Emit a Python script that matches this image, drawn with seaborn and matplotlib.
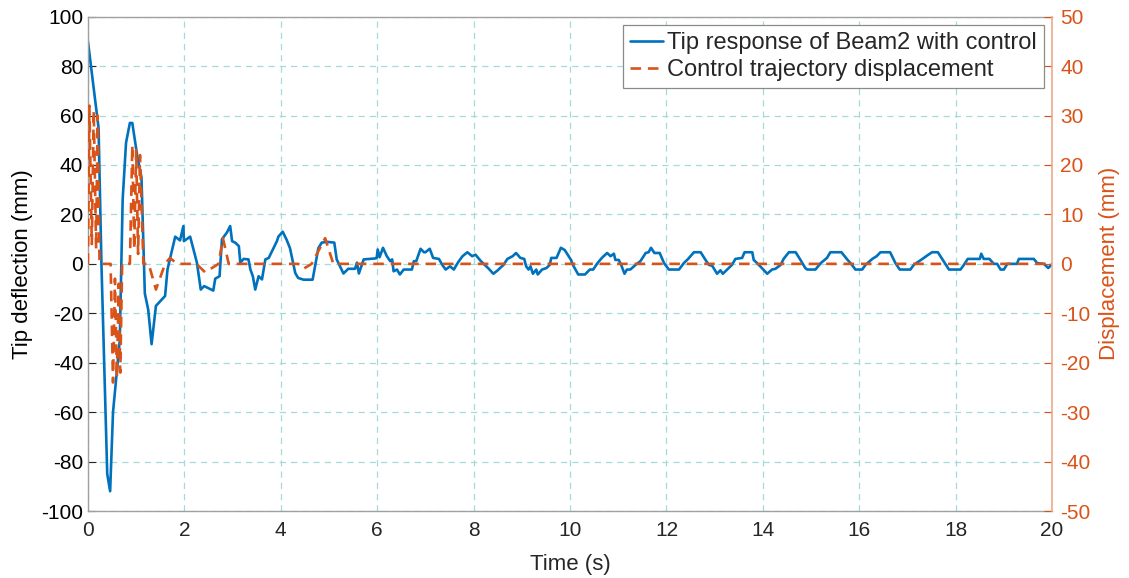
import numpy as np
import pandas as pd
import matplotlib
matplotlib.use("Agg")
import matplotlib.pyplot as plt
import seaborn as sns

# Tip deflection of Beam2 (left axis, mm)
t_tip = [0, 0.22, 0.28, 0.40, 0.46, 0.52, 0.66, 0.72, 0.79, 0.87, 0.92, 1.02, 1.11, 1.18, 1.25,
         1.32, 1.41, 1.60, 1.65, 1.81, 1.91, 1.98, 1.99, 2.12, 2.26, 2.34, 2.41, 2.60, 2.64, 2.73,
         2.78, 2.88, 2.95, 2.99, 3.06, 3.13, 3.16, 3.23, 3.33, 3.37, 3.42, 3.47, 3.54, 3.61, 3.68,
         3.75, 3.92, 3.95, 4.04, 4.12, 4.19, 4.30, 4.36, 4.47, 4.66, 4.71, 4.78, 4.85, 4.96, 5.11,
         5.16, 5.30, 5.40, 5.54, 5.58, 5.62, 5.72, 5.96, 5.99, 6.01, 6.05, 6.12, 6.20, 6.27, 6.31,
         6.34, 6.41, 6.47, 6.55, 6.72, 6.76, 6.81, 6.90, 6.97, 7.00, 7.09, 7.16, 7.28, 7.35, 7.42,
         7.51, 7.59, 7.68, 7.77, 7.87, 7.97, 8.04, 8.15, 8.30, 8.41, 8.50, 8.62, 8.70, 8.81, 8.88,
         8.97, 9.05, 9.09, 9.14, 9.18, 9.23, 9.30, 9.33, 9.42, 9.51, 9.58, 9.61, 9.72, 9.81, 9.89,
         10.02, 10.07, 10.17, 10.31, 10.41, 10.48, 10.57, 10.66, 10.77, 10.84, 10.91, 10.94, 11.01,
         11.06, 11.13, 11.18, 11.25, 11.36, 11.46, 11.57, 11.63, 11.68, 11.75, 11.86, 11.95, 12.05,
         12.26, 12.36, 12.45, 12.57, 12.71, 12.81, 12.88, 12.95, 13.05, 13.12, 13.17, 13.26, 13.36,
         13.43, 13.57, 13.62, 13.78, 13.81, 13.88, 13.98, 14.09, 14.19, 14.26, 14.37, 14.43, 14.54,
         14.68, 14.78, 14.88, 14.92, 15.09, 15.20, 15.33, 15.40, 15.63, 15.74, 15.83, 15.92, 16.06,
         16.13, 16.27, 16.36, 16.44, 16.64, 16.75, 16.84, 17.06, 17.13, 17.31, 17.41, 17.51, 17.63,
         17.76, 17.86, 18.10, 18.17, 18.25, 18.50, 18.53, 18.58, 18.70, 18.79, 18.86, 18.93, 19.00,
         19.07, 19.27, 19.31, 19.62, 19.69, 19.83, 19.92, 20.00]
y_tip = [90, 55, 0, -85, -92, -60, -31, 26, 49, 57, 57, 44, 35, -12, -18.5,
         -32.5, -17, -13, -2.3, 11, 9.5, 15.3, 9.2, 11, 0.5, -10.4, -9, -10.8, -6, -5,
         10, 12.6, 15.3, 9.2, 8.5, 7.2, 0.5, 2, 1.8, -2.3, -5, -10.4, -5, -6.3, 1.8,
         2.4, 9.2, 11, 13, 9.8, 6.4, -3.7, -5.7, -6.4, -6.4, -1, 6.4, 8.6, 8.9, 8.6,
         1.8, -3.9, -2, -2, 0.5, -3.9, 1.8, 2.2, 2.4, 5.8, 2.7, 6.5, 3.1, 1.1, 1.8,
         -3, -2.3, -4.3, -2.3, -2.3, 1.1, 1.1, 6.1, 4.7, 4.7, 6.1, 2.4, 2, -0.4, -2.3,
         -1, -2.3, 0.7, 3.1, 4.7, 3.1, 3.7, 1.1, -1.7, -4, -2.6, -0.4, 2, 3.1, 4.4,
         2.4, 2, -1, -2.3, -1, -4, -2.3, -4.3, -2.3, -1.7, -0.4, 2.4, 2.4, 6.5, 5.6,
         1.6, -0.8, -4.3, -4.3, -2.3, -2.3, 0.3, 2.4, 4.4, 3.1, 4.1, 1.6, 1.6,
         -0.4, -4, -2.3, -2.3, -0.4, 1.1, 4.4, 4.7, 6.5, 4.4, 4.4, 0.3, -2.3,
         -2.3, 0.3, 2, 4.7, 4.7, 1.6, -0.4, -0.8, -4, -2.6, -4, -2.3, -0.4,
         2, 2.4, 4.7, 4.7, 1.6, 0.3, -1.7, -4, -2.3, -2, -0.4, 2, 4.7,
         4.7, 1.6, -1.7, -2.3, -2.3, 0.3, 2.4, 4.7, 4.7, 2, 0, -2.3, -2.3,
         -0.4, 2, 3.1, 4.7, 4.7, 0.3, -2.3, -2.3, -0.4, 2, 3.4, 4.7, 4.7,
         0.7, -2.3, -2.3, -0.4, 2, 2, 4.1, 2, 2, 0, 0, -2.3, -2.3,
         0, 0, 2, 2, 0.3, 0, -1.7, 0]

# Control trajectory displacement (right axis, mm)
t_ctrl = [0, 0.03, 0.08, 0.12, 0.17, 0.20, 0.24, 0.47, 0.52, 0.56, 0.60, 0.64, 0.67, 0.71,
          0.87, 0.92, 0.96, 1.00, 1.04, 1.08, 1.15, 1.26, 1.41, 1.60, 1.70, 1.85, 2.25, 2.43,
          2.71, 2.80, 2.92, 4.36, 4.47, 4.64, 4.92, 5.09, 20]
d_ctrl = [0, 32, 4, 31, 3, 30, 0, 0, -24, -3, -23, -4, -22, 0,
          0, 24, 3, 23, 2, 22, 0, 0, -5.2, 0, 1.2, 0, 0, -1.7,
          0, 5.2, 0, 0, -1, 0, 5.2, 0, 0]

x_ticks = list(range(0, 21, 2))
left_ticks = list(range(-100, 101, 20))
right_ticks = list(range(-50, 51, 10))

label_tip = "Tip response of Beam2 with control"
label_ctrl = "Control trajectory displacement"

blue = "#0072BD"
orange = "#D95319"
grid_color = "#a6d9dc"
axis_gray = "#262626"

sns.set_theme(style="white")
plt.rcParams["font.family"] = ["Liberation Sans", "DejaVu Sans"]
plt.rcParams["axes.unicode_minus"] = False

df_tip = pd.DataFrame({"t": t_tip, "y": y_tip})
df_ctrl = pd.DataFrame({"t": t_ctrl, "d": d_ctrl})

fig = plt.figure(figsize=(11.29, 5.78), dpi=100)
ax = fig.add_axes([0.0779, 0.1159, 0.8540, 0.8552])
ax2 = ax.twinx()

sns.lineplot(data=df_tip, x="t", y="y", ax=ax, color=blue, linewidth=1.9,
             sort=False, estimator=None, label=label_tip, legend=False)
sns.lineplot(data=df_ctrl, x="t", y="d", ax=ax2, color=orange, linewidth=1.9,
             sort=False, estimator=None, label=label_ctrl, legend=False)
ax2.lines[0].set_dashes((4, 2.6))

ax.set_xlim(0, 20)
ax.set_ylim(-100, 100)
ax2.set_ylim(-50, 50)
ax.set_xticks(x_ticks)
ax.set_yticks(left_ticks)
ax2.set_yticks(right_ticks)

ax.grid(True, color=grid_color, linestyle=(0, (5, 4)), linewidth=0.9)
ax.set_axisbelow(True)

ax.set_xlabel("Time (s)", fontsize=16, color=axis_gray, labelpad=10)
ax.set_ylabel("Tip deflection (mm)", fontsize=16, color="black", labelpad=6)
ax2.set_ylabel("Displacement (mm)", fontsize=16, color=orange, labelpad=6)

ax.tick_params(axis="both", direction="in", length=6, width=0.8, labelsize=15,
               colors=axis_gray, pad=7)
ax.tick_params(axis="y", labelcolor="black", pad=3.5)
ax2.tick_params(axis="y", direction="in", length=6, width=0.8, labelsize=15,
                colors=orange, pad=6)

for name in ["left", "bottom", "top"]:
    ax.spines[name].set_color("#a0a0a0")
    ax.spines[name].set_linewidth(1.0)
for name in ["left", "bottom", "top"]:
    ax2.spines[name].set_visible(False)
ax2.spines["right"].set_color("#f0a888")
ax2.spines["right"].set_linewidth(1.2)
ax.spines["right"].set_visible(False)

handles = ax.get_lines()[:1] + ax2.get_lines()[:1]
leg = ax2.legend(handles, [label_tip, label_ctrl], loc="upper right", fontsize=17,
                 frameon=True, fancybox=False, framealpha=1, edgecolor="#8a8a8a",
                 handlelength=1.4, handletextpad=0.15, labelspacing=0.2,
                 borderpad=0.3, borderaxespad=0.35)
leg.get_frame().set_linewidth(0.9)

fig.savefig("out.png", dpi=100)
